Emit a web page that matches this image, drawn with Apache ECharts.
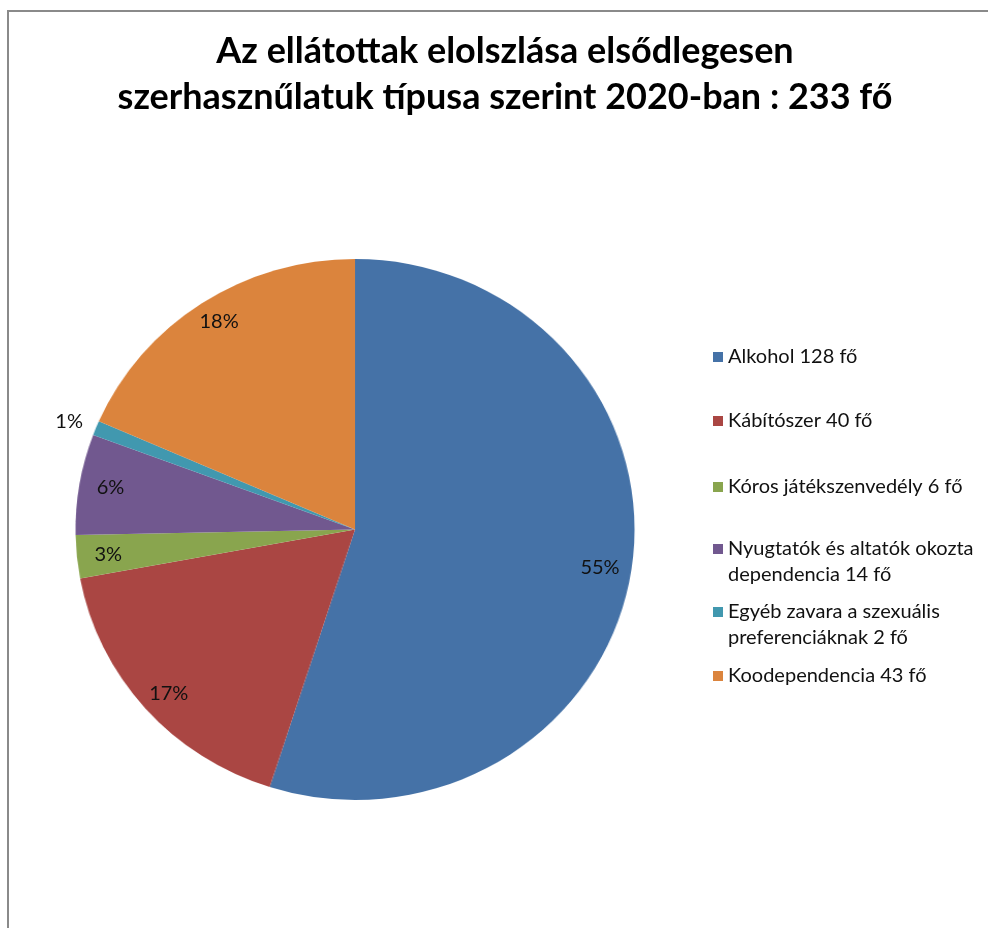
<!DOCTYPE html>
<html>
<head>
<meta charset="utf-8">
<script src="https://cdn.jsdelivr.net/npm/echarts@6/dist/echarts.min.js"></script>
<style>
html,body{margin:0;padding:0;background:#fff;}
#frame{position:absolute;left:7px;top:10px;width:1100px;height:1100px;border-left:2px solid #8a8a8a;border-top:2px solid #8a8a8a;}
#pie{position:absolute;left:0;top:0;width:988px;height:928px;transform:scaleX(1.0333);transform-origin:355px 0;}
#chart{position:absolute;left:0;top:0;width:988px;height:928px;}
</style>
</head>
<body>
<div id="frame"></div>
<div id="pie"></div>
<div id="chart"></div>
<script>
const titleText = 'Az ellátottak elolszlása elsődlegesen\nszerhasznűlatuk típusa szerint 2020-ban : 233 fő';
const categories = ['Alkohol 128 fő', 'Kábítószer 40 fő', 'Kóros játékszenvedély 6 fő', 'Nyugtatók és altatók okozta dependencia 14 fő', 'Egyéb zavara a szexuális preferenciáknak 2 fő', 'Koodependencia 43 fő'];
const legendLabels = ['Alkohol 128 fő', 'Kábítószer 40 fő', 'Kóros játékszenvedély 6 fő', 'Nyugtatók és altatók okozta\ndependencia 14 fő', 'Egyéb zavara a szexuális\npreferenciáknak 2 fő', 'Koodependencia 43 fő'];
const values = [128, 40, 6, 14, 2, 43];
const colors = ['#4572A7', '#AA4643', '#89A54E', '#71588F', '#4198AF', '#DB843D'];

const FONT = 'Lato, "Open Sans", "DejaVu Sans", sans-serif';
const pieChart = echarts.init(document.getElementById('pie'), null, {renderer: 'canvas'});
const chart = echarts.init(document.getElementById('chart'), null, {renderer: 'canvas'});

const total = values.reduce((a, b) => a + b, 0);
const pieData = categories.map((name, i) => ({name: name, value: values[i], itemStyle: {color: colors[i]}}));

pieChart.setOption({
  animation: false,
  backgroundColor: 'transparent',
  series: [{
    type: 'pie',
    center: [355, 529.5],
    radius: [0, 270.5],
    startAngle: 90,
    clockwise: true,
    silent: true,
    label: {show: false},
    labelLine: {show: false},
    itemStyle: {borderWidth: 0},
    data: pieData
  }]
});

const legendTops = [347, 411, 477, 510, 573, 666];
const legends = categories.map((name, i) => {
  const multi = legendLabels[i].indexOf('\n') >= 0;
  return {
    orient: 'vertical',
    left: 713,
    top: legendTops[i],
    padding: 0,
    itemWidth: 10,
    itemHeight: 10,
    icon: 'rect',
    selectedMode: false,
    data: [{name: name, itemStyle: {color: colors[i]}}],
    formatter: () => (multi ? '\n' : '') + legendLabels[i],
    textStyle: {
      fontFamily: FONT,
      fontSize: 20,
      color: '#111',
      lineHeight: multi ? 26 : 20
    }
  };
});

const labelData = categories.map((name, i) => {
  const d = {name: name, value: values[i]};
  if (values[i] / total < 0.02) {
    d.label = {position: 'outside'};
    d.labelLine = {show: false, length: 16, length2: 0};
  }
  return d;
});

chart.setOption({
  animation: false,
  backgroundColor: 'transparent',
  color: colors,
  title: {
    text: titleText,
    left: 505,
    textAlign: 'center',
    top: 28,
    padding: 0,
    textStyle: {
      fontFamily: FONT,
      fontSize: 36,
      fontWeight: 'bold',
      color: '#000',
      lineHeight: 46
    }
  },
  legend: legends,
  series: [
    {
      type: 'pie',
      center: [355, 529.5],
      radius: [218, 272],
      startAngle: 90,
      clockwise: true,
      silent: true,
      avoidLabelOverlap: false,
      itemStyle: {color: 'rgba(0,0,0,0)', borderWidth: 0},
      label: {
        show: true,
        position: 'inside',
        formatter: p => Math.round(p.percent) + '%',
        fontFamily: FONT,
        fontSize: 20,
        color: '#111'
      },
      labelLine: {show: false},
      data: labelData
    }
  ]
});
</script>
</body>
</html>
